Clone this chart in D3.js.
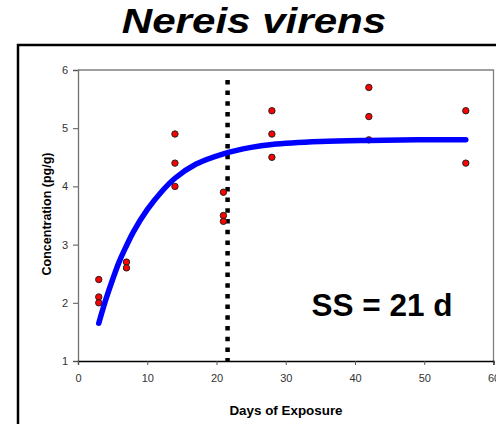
<!DOCTYPE html>
<html>
<head>
<meta charset="utf-8">
<script src="https://cdn.jsdelivr.net/npm/d3@7"></script>
<style>
body { margin: 0; background: #fff; }
text { font-family: "Liberation Sans", Arial, sans-serif; }
</style>
</head>
<body>
<script>
var w = 496;
var h = 424;

// measured concentrations (pg/g)
var days = [3, 3, 3, 7, 7, 14, 14, 14, 21, 21, 21, 28, 28, 28, 42, 42, 42, 56, 56];
var conc = [2.4, 2.1, 2.0, 2.7, 2.6, 4.9, 4.4, 4.0, 3.9, 3.5, 3.4, 5.3, 4.9, 4.5, 5.7, 5.2, 4.8, 5.3, 4.4];

// fitted uptake curve
var fitDays = [3, 4, 5, 6, 7, 8, 10, 12, 14, 17, 21, 25, 28, 35, 42, 49, 56];
var fitConc = [1.65, 2.05, 2.4, 2.72, 2.98, 3.22, 3.6, 3.9, 4.14, 4.38, 4.56, 4.67, 4.72, 4.77, 4.79, 4.8, 4.8];

var ssDay = 21.6;
var ssTop = 5.83;

var xTicks = [0, 10, 20, 30, 40, 50, 60];
var yTicks = [1, 2, 3, 4, 5, 6];

var x = d3.scaleLinear().domain([0, 60]).range([78, 493.5]);
var y = d3.scaleLinear().domain([1, 6]).range([361, 70]);

var svg = d3.select("body")
    .append("svg")
    .attr("width", w)
    .attr("height", h);

// outer frame
svg.append("rect")
    .attr("x", 18)
    .attr("y", 45)
    .attr("width", 520)
    .attr("height", 420)
    .attr("fill", "none")
    .attr("stroke", "#000")
    .attr("stroke-width", 2.5);

// title
svg.append("text")
    .attr("transform", "translate(254,33) scale(1.17,1)")
    .attr("text-anchor", "middle")
    .style("font-size", "36px")
    .style("font-weight", "bold")
    .style("font-style", "italic")
    .text("Nereis virens");

// plot box top/right
svg.append("path")
    .attr("d", "M" + x(0) + "," + y(6) + "H" + x(60) + "V" + y(1))
    .attr("fill", "none")
    .attr("stroke", "#808080")
    .attr("stroke-width", 1.3);

var yAxis = svg.append("g")
    .attr("transform", "translate(" + x(0) + ",0)")
    .call(d3.axisLeft(y).tickValues(yTicks).tickSize(5).tickPadding(5).tickFormat(d3.format("d")));
yAxis.select(".domain").attr("stroke", "#707070").attr("stroke-width", 1.3);
yAxis.selectAll(".tick line").attr("stroke", "#555");
yAxis.selectAll("text").style("font-size", "11px").attr("fill", "#333")
    .style("font-family", "Liberation Sans, Arial, sans-serif");

var xAxis = svg.append("g")
    .attr("transform", "translate(0," + y(1) + ")")
    .call(d3.axisBottom(x).tickValues(xTicks).tickSize(4).tickPadding(9).tickFormat(d3.format("d")));
xAxis.select(".domain").attr("stroke", "#000").attr("stroke-width", 1.3);
xAxis.selectAll(".tick line").attr("stroke", "#555");
xAxis.selectAll("text").style("font-size", "11px").attr("fill", "#333")
    .style("font-family", "Liberation Sans, Arial, sans-serif");

// axis titles
svg.append("text")
    .attr("transform", "translate(50.5,214) rotate(-90)")
    .attr("text-anchor", "middle")
    .style("font-size", "12.5px")
    .style("font-weight", "bold")
    .text("Concentration (pg/g)");

svg.append("text")
    .attr("x", 286)
    .attr("y", 415)
    .attr("text-anchor", "middle")
    .style("font-size", "13.4px")
    .style("font-weight", "bold")
    .text("Days of Exposure");

// steady state marker
svg.append("line")
    .attr("x1", x(ssDay))
    .attr("x2", x(ssDay))
    .attr("y1", y(ssTop))
    .attr("y2", y(1))
    .attr("stroke", "#000")
    .attr("stroke-width", 4.5)
    .attr("stroke-dasharray", "4.5,6.2");

// points
svg.selectAll("circle")
    .data(days)
    .enter()
    .append("circle")
    .attr("cx", function(d){
        return x(d);
    })
    .attr("cy", function(d, i){
        return y(conc[i]);
    })
    .attr("r", 3.2)
    .attr("fill", "#ff0000")
    .attr("stroke", "#222")
    .attr("stroke-width", 1);

// fitted curve
var line = d3.line()
    .x(function(d){ return x(d); })
    .y(function(d, i){ return y(fitConc[i]); })
    .curve(d3.curveCatmullRom.alpha(0.5));

svg.append("path")
    .attr("d", line(fitDays))
    .attr("fill", "none")
    .attr("stroke", "#0000ff")
    .attr("stroke-width", 5.5)
    .attr("stroke-linecap", "round");

svg.append("text")
    .attr("x", 382)
    .attr("y", 316)
    .attr("text-anchor", "middle")
    .style("font-size", "31.5px")
    .style("font-weight", "bold")
    .text("SS = 21 d");
</script>
</body>
</html>
